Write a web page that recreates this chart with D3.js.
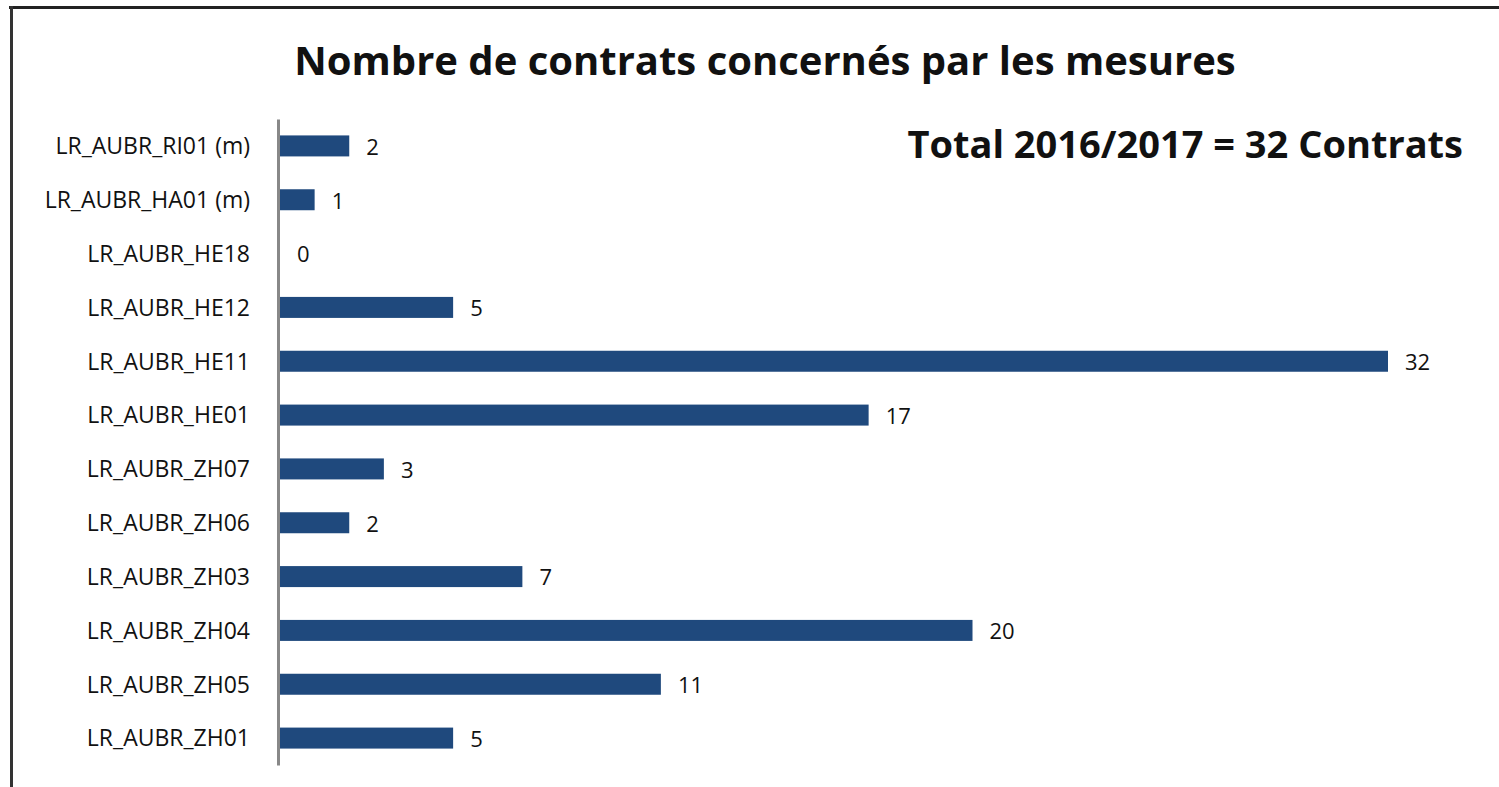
<!DOCTYPE html>
<html><head><meta charset="utf-8">
<script src="https://cdn.jsdelivr.net/npm/d3@7"></script>
<style>body{margin:0;background:#fff;} svg{display:block;}</style>
</head><body>
<svg id="chart" width="1499" height="787"></svg>
<script>
const categories = ["LR_AUBR_RI01 (m)","LR_AUBR_HA01 (m)","LR_AUBR_HE18","LR_AUBR_HE12","LR_AUBR_HE11","LR_AUBR_HE01","LR_AUBR_ZH07","LR_AUBR_ZH06","LR_AUBR_ZH03","LR_AUBR_ZH04","LR_AUBR_ZH05","LR_AUBR_ZH01"];
const values = [2,1,0,5,32,17,3,2,7,20,11,5];
const title = "Nombre de contrats concernés par les mesures";
const subtitle = "Total 2016/2017 = 32 Contrats";

const svg = d3.select("#chart");
const font = "'Open Sans', sans-serif";

// frame
svg.append("line").attr("x1",9).attr("x2",1499).attr("y1",7.5).attr("y2",7.5).attr("stroke","#222").attr("stroke-width",3);
svg.append("line").attr("x1",11.5).attr("x2",11.5).attr("y1",6).attr("y2",787).attr("stroke","#333").attr("stroke-width",3);

const x = d3.scaleLinear().domain([0,32]).range([280,1388]);
const y = d3.scaleBand().domain(categories).range([119,765]).paddingInner(0.61).paddingOuter(0.305);

svg.append("text").attr("x",765).attr("y",75).attr("text-anchor","middle")
  .attr("font-family",font).attr("font-weight","bold").attr("font-size",40).attr("fill","#111").text(title);
svg.append("text").attr("x",1463).attr("y",158).attr("text-anchor","end")
  .attr("font-family",font).attr("font-weight","bold").attr("font-size",38).attr("fill","#111").text(subtitle);

svg.selectAll("rect.bar").data(values).join("rect").attr("class","bar")
  .attr("x",x(0)).attr("y",(d,i)=>y(categories[i]))
  .attr("width",d=>x(d)-x(0)).attr("height",y.bandwidth()).attr("fill","#1f497d");

svg.selectAll("text.val").data(values).join("text").attr("class","val")
  .attr("x",d=>x(d)+17).attr("y",(d,i)=>y(categories[i])+y.bandwidth()/2)
  .attr("dy","0.4em").attr("font-family",font).attr("font-size",22).attr("fill","#111").text(d=>d);

const axis = d3.axisLeft(y).tickSize(0).tickPadding(28);
const g = svg.append("g").attr("transform","translate(278,0)").call(axis);
g.select(".domain").attr("stroke","#888").attr("stroke-width",3);
g.selectAll("text").attr("font-family",font).attr("font-size",23).attr("fill","#111").attr("dy","0.36em");
</script>
</body></html>
